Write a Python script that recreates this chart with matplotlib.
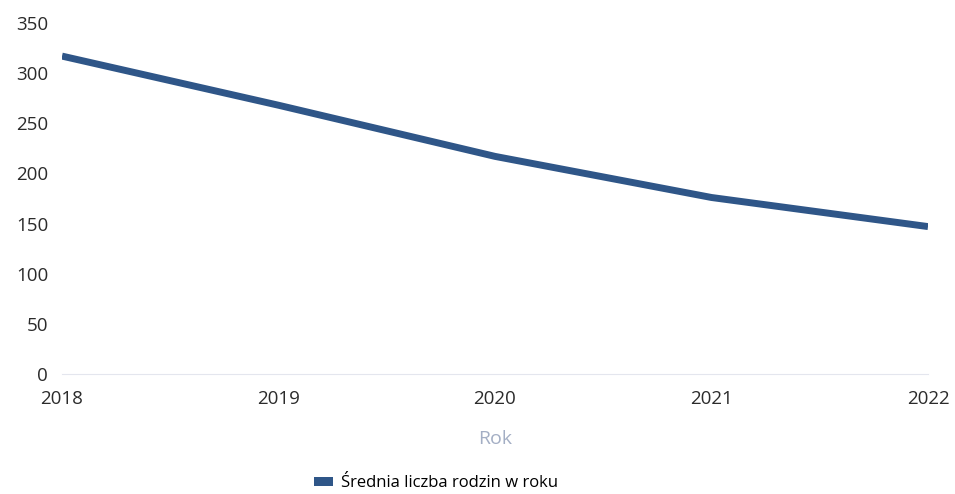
import matplotlib
matplotlib.use("Agg")
import matplotlib.pyplot as plt
from matplotlib.patches import Patch

years = [2018, 2019, 2020, 2021, 2022]
values = [317, 268, 217, 176, 147]
series_name = "Średnia liczba rodzin w roku"
y_ticks = [0, 50, 100, 150, 200, 250, 300, 350]
line_color = "#2f5688"

plt.rcParams['font.family'] = ['Open Sans', 'DejaVu Sans']

fig = plt.figure(figsize=(9.55, 4.94), dpi=100)
ax = fig.add_axes([62/955, (494-374)/494, (928-62)/955, 351/494])
ax.plot(years, values, color=line_color, lw=5.0, solid_capstyle='butt', solid_joinstyle='round')
ax.set_xlim(2018, 2022)
ax.set_ylim(0, 350)
ax.set_yticks(y_ticks)
ax.set_xticks(years)
ax.set_xticklabels([str(y) for y in years])
for s in ['top', 'right', 'left']:
    ax.spines[s].set_visible(False)
ax.spines['bottom'].set_color('#e4e6ee')
ax.spines['bottom'].set_linewidth(0.8)
ax.tick_params(axis='both', length=0, labelsize=13.5, colors='#2b2b2b')
ax.tick_params(axis='y', pad=10)
ax.tick_params(axis='x', pad=11.5)
ax.set_xlabel("Rok", color='#a3aec4', fontsize=14, labelpad=15.5)

handle = Patch(facecolor=line_color, edgecolor='none')
fig.legend([handle], [series_name], loc='center', bbox_to_anchor=(436/955, 1-483/494),
           frameon=False, fontsize=12, handlelength=1.1, handleheight=0.45, handletextpad=0.5)

fig.savefig("out.png", dpi=100, facecolor='white')
